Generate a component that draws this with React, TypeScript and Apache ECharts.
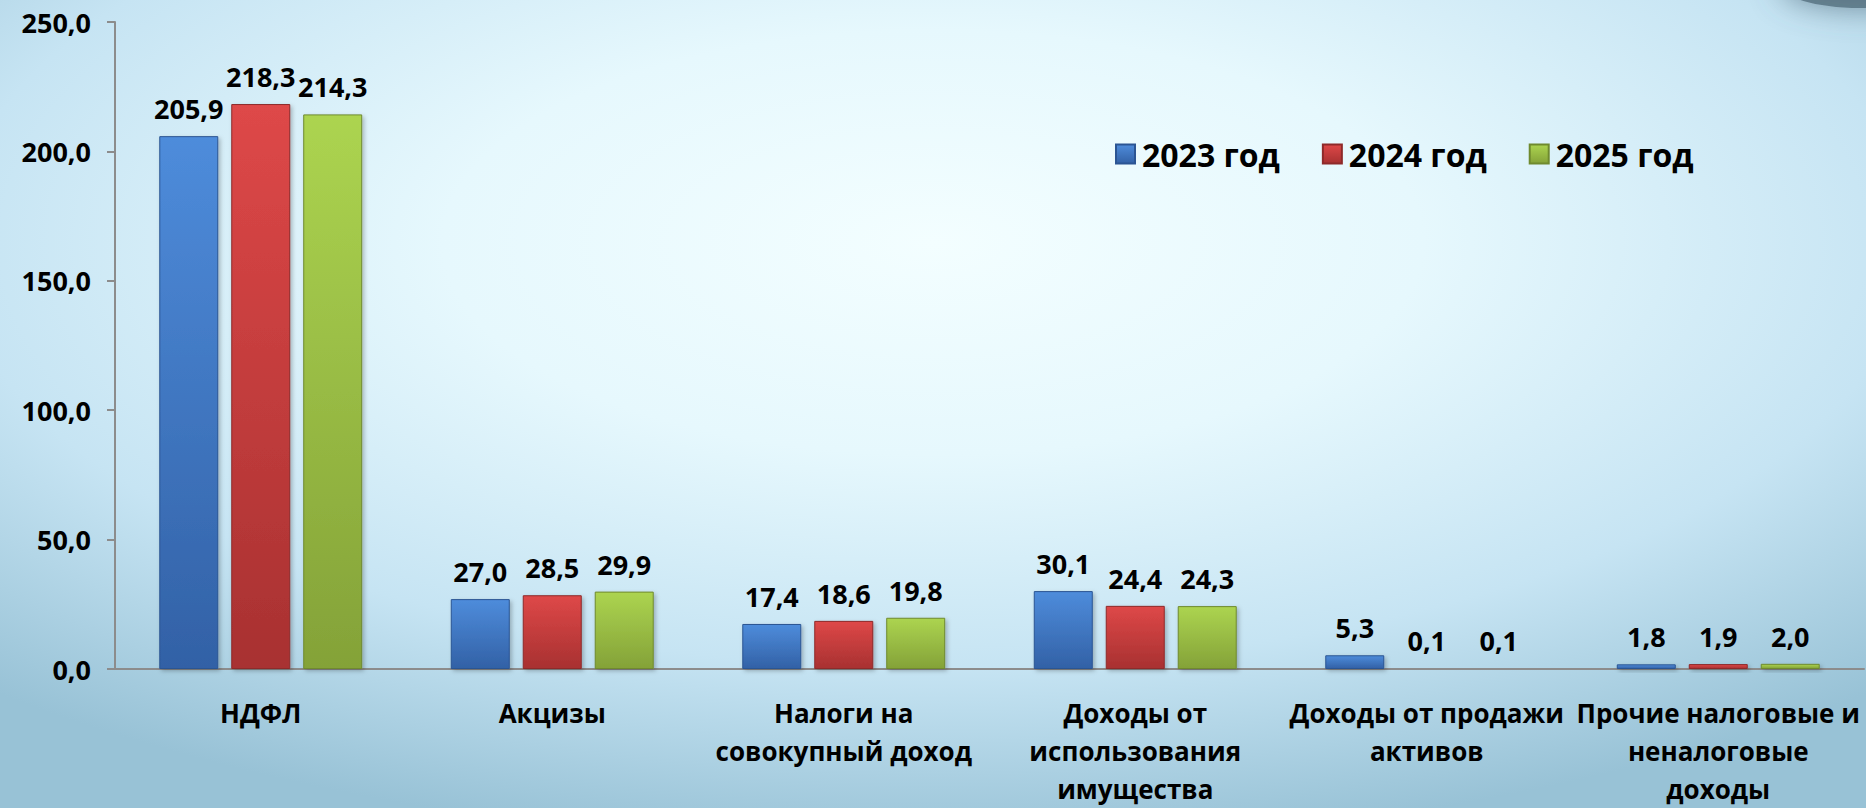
import React, { useEffect, useRef } from "react";
import * as echarts from "echarts";

const categories = [
  "НДФЛ",
  "Акцизы",
  "Налоги на\nсовокупный доход",
  "Доходы от\nиспользования\nимущества",
  "Доходы от продажи\nактивов",
  "Прочие налоговые и\nненалоговые\nдоходы",
];
const seriesNames = ["2023 год", "2024 год", "2025 год"];
const values2023 = [205.9, 27.0, 17.4, 30.1, 5.3, 1.8];
const values2024 = [218.3, 28.5, 18.6, 24.4, 0.1, 1.9];
const values2025 = [214.3, 29.9, 19.8, 24.3, 0.1, 2.0];
const yTicks = { min: 0, max: 250, interval: 50 };

const palettes = [
  { top: "#4e8cdb", bottom: "#3261a6", border: "#2b5593" },
  { top: "#de4848", bottom: "#a83131", border: "#8e2a2a" },
  { top: "#acd450", bottom: "#84a238", border: "#6f8a2e" },
];

const fmt = (v: number) => v.toFixed(1).replace(".", ",");
const FONT = "'Open Sans', 'Noto Sans', sans-serif";

export default function App() {
  const ref = useRef<HTMLDivElement>(null);
  useEffect(() => {
    if (!ref.current) return;
    const chart = echarts.init(ref.current, null, { renderer: "svg" });
    const all = [values2023, values2024, values2025];
    const series = all.map((vals, i) => ({
      name: seriesNames[i],
      type: "bar",
      data: vals,
      barWidth: 59,
      barGap: "22%",
      itemStyle: {
        color: {
          type: "linear",
          x: 0,
          y: 0,
          x2: 0,
          y2: 1,
          colorStops: [
            { offset: 0, color: palettes[i].top },
            { offset: 1, color: palettes[i].bottom },
          ],
        },
        borderColor: palettes[i].border,
        borderWidth: 1,
        shadowColor: "rgba(0,0,0,0.25)",
        shadowBlur: 4,
        shadowOffsetX: 2,
        shadowOffsetY: 2,
      },
      label: {
        show: true,
        position: "top",
        distance: 14,
        formatter: (p: any) => fmt(p.value),
        color: "#000",
        fontFamily: FONT,
        fontWeight: "bold",
        fontSize: 27,
      },
    }));
    chart.setOption({
      animation: false,
      graphic: [
        {
          type: "rect",
          z: -10,
          silent: true,
          shape: { x: 0, y: 0, width: 1866, height: 808 },
          style: {
            fill: {
              type: "radial",
              x: 0.5,
              y: 0.3,
              r: 0.75,
              colorStops: [
                { offset: 0, color: "#f3feff" },
                { offset: 0.35, color: "#e6f8fd" },
                { offset: 0.7, color: "#c6e4f3" },
                { offset: 1, color: "#98c2d6" },
              ],
            },
          },
        },
        {
          type: "ellipse",
          z: -9,
          silent: true,
          shape: { cx: 1860, cy: -16, rx: 80, ry: 24 },
          style: {
            fill: "rgba(85,112,128,0.8)",
            shadowBlur: 30,
            shadowColor: "rgba(85,112,128,0.9)",
          },
        },
      ],
      legend: {
        data: seriesNames,
        left: 1110,
        top: 133,
        icon: "rect",
        itemWidth: 19,
        itemHeight: 19,
        itemGap: 42,
        textStyle: {
          color: "#000",
          fontFamily: FONT,
          fontWeight: "bold",
          fontSize: 32,
          padding: [0, 0, 0, 2],
        },
      },
      grid: { left: 115, right: 2, top: 22, bottom: 127, containLabel: false },
      xAxis: {
        type: "category",
        data: categories,
        axisLine: { show: true, lineStyle: { color: "#8c8c8c", width: 2 } },
        axisTick: { show: false },
        axisLabel: {
          interval: 0,
          margin: 25,
          color: "#000",
          fontFamily: FONT,
          fontWeight: "bold",
          fontSize: 26,
          lineHeight: 38,
        },
      },
      yAxis: {
        type: "value",
        min: yTicks.min,
        max: yTicks.max,
        interval: yTicks.interval,
        splitLine: { show: false },
        axisLine: { show: true, lineStyle: { color: "#8c8c8c", width: 2 } },
        axisTick: { show: true, length: 8, lineStyle: { color: "#8c8c8c", width: 2 } },
        axisLabel: {
          margin: 24,
          formatter: (v: number) => fmt(v),
          color: "#000",
          fontFamily: FONT,
          fontWeight: "bold",
          fontSize: 27,
        },
      },
      series,
    });
    return () => chart.dispose();
  }, []);
  return (
    <div
      ref={ref}
      style={{ position: "absolute", left: 0, top: 0, width: 1866, height: 808 }}
    />
  );
}
